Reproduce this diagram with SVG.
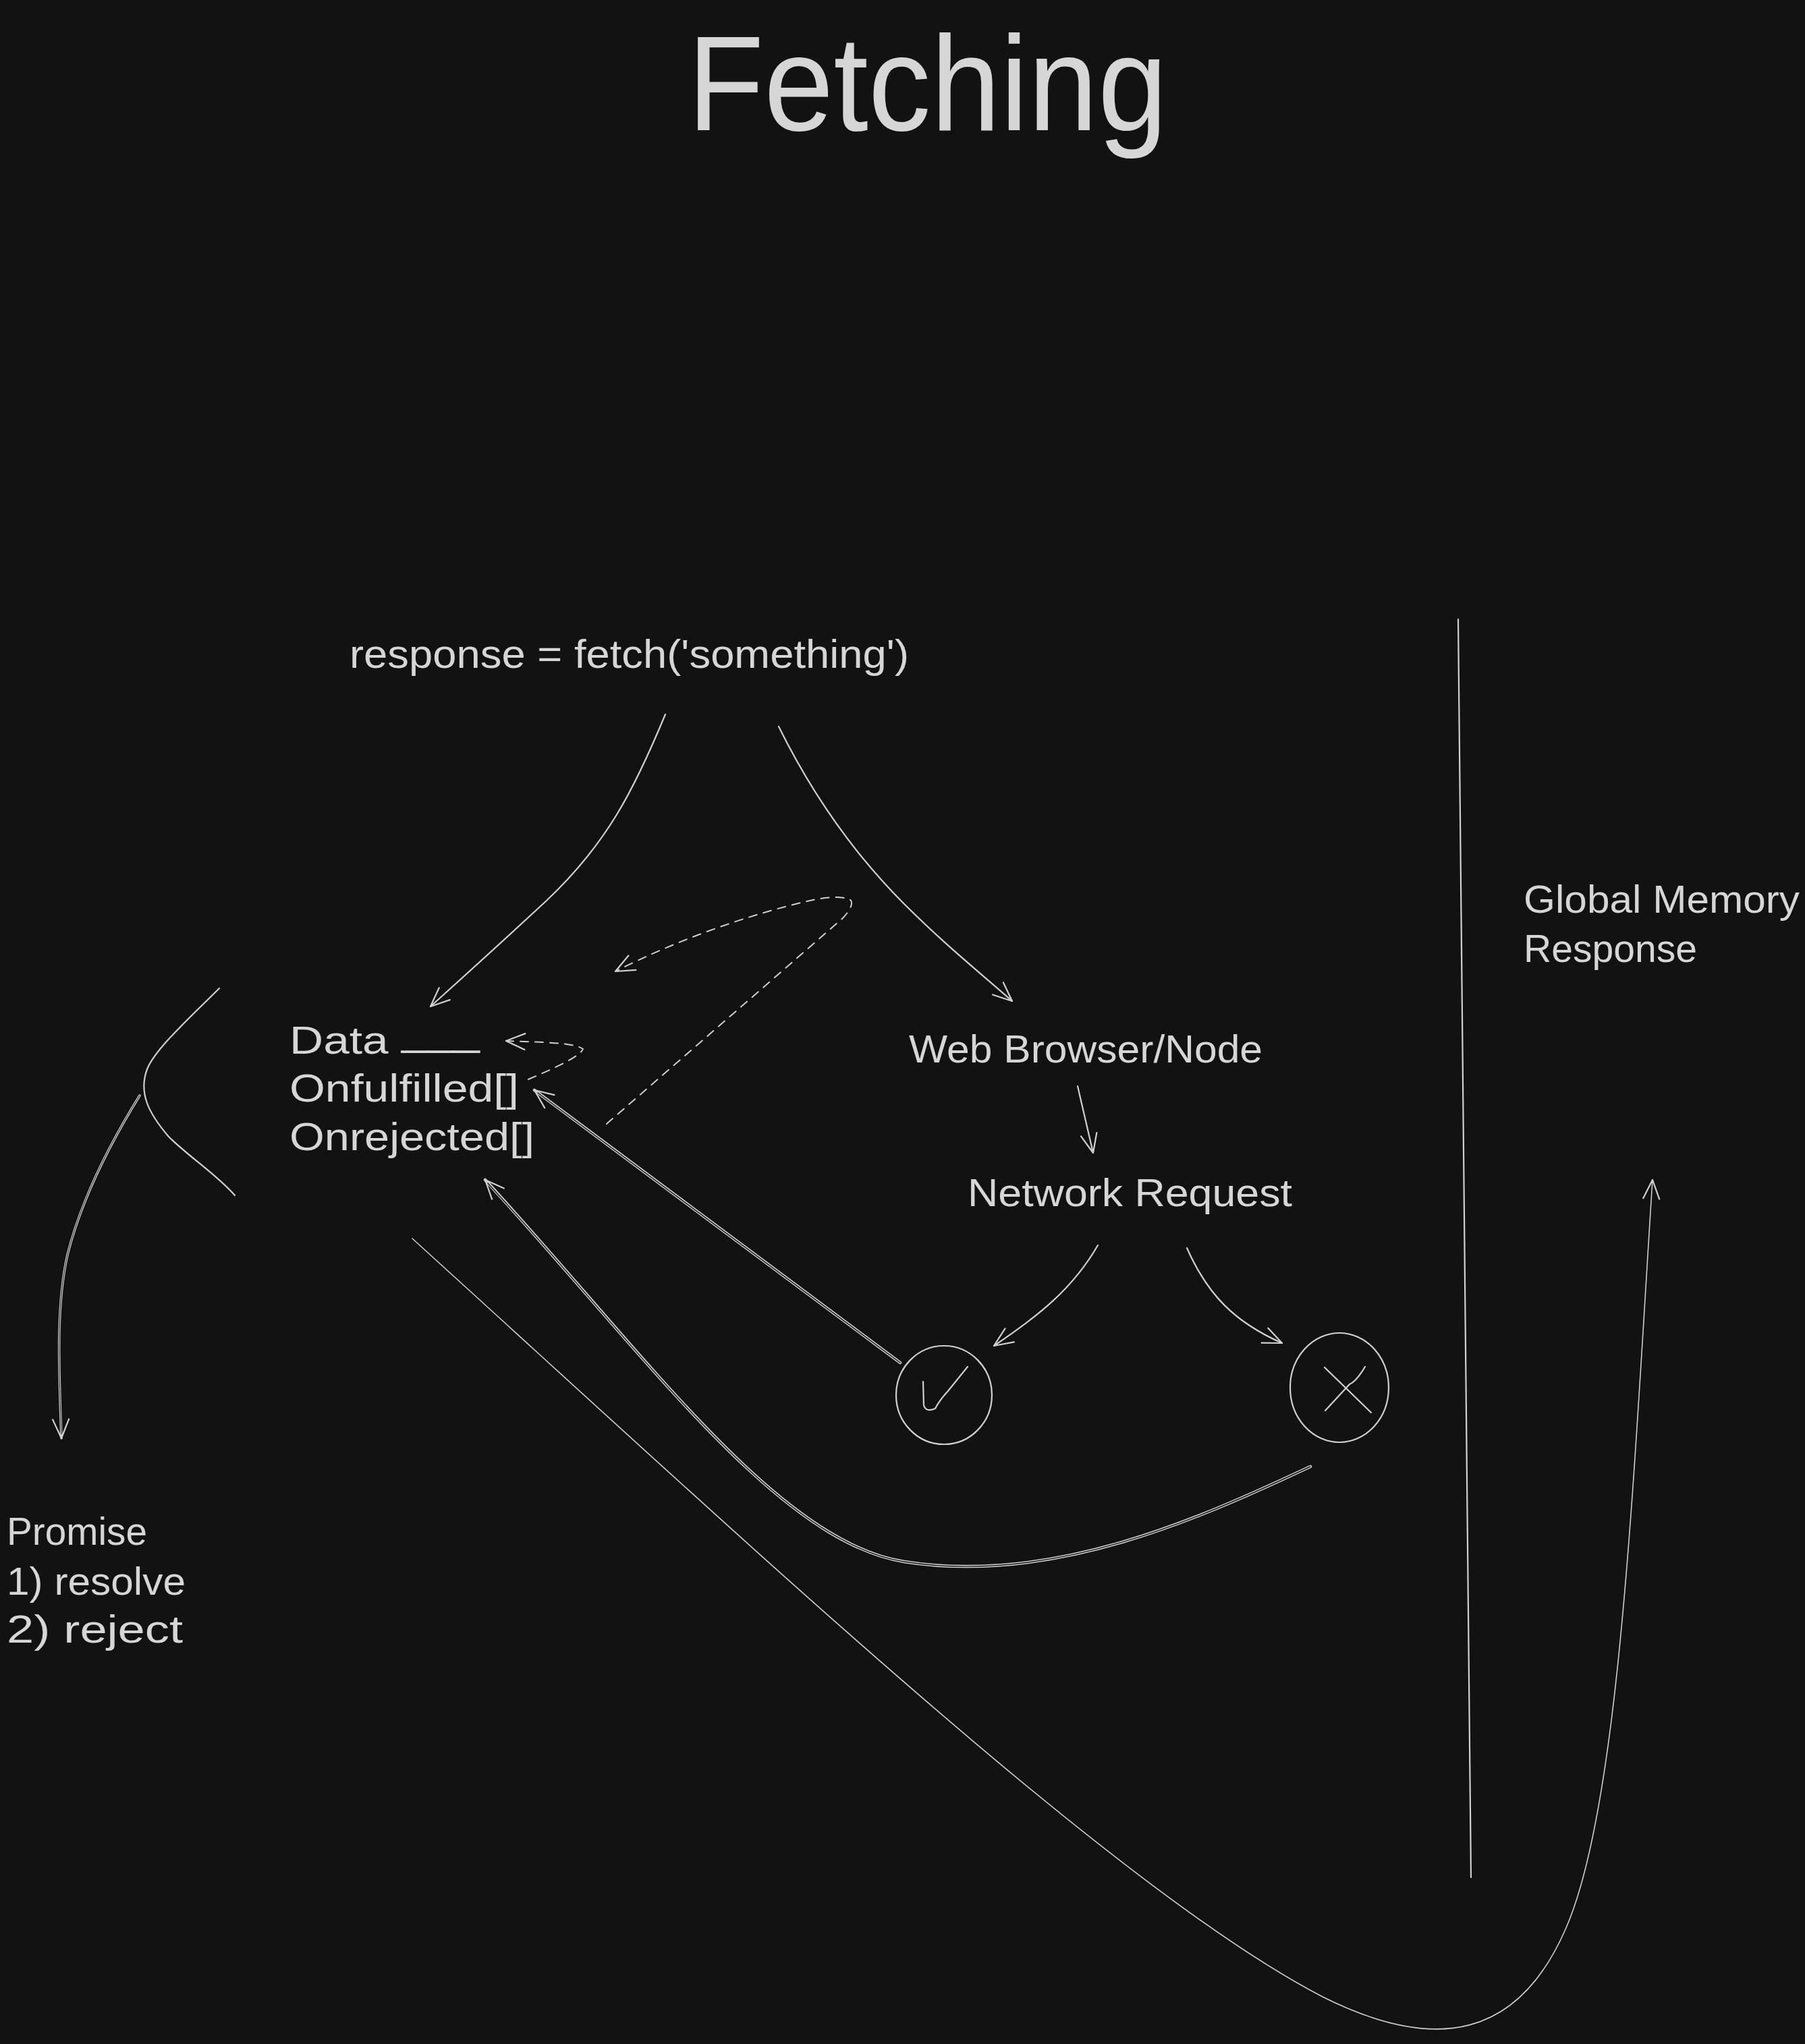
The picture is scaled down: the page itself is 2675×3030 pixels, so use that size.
<svg xmlns="http://www.w3.org/2000/svg" width="2675" height="3030" viewBox="0 0 2675 3030">
<style>
.t{font-family:"Liberation Sans","DejaVu Sans",sans-serif;fill:#d6d6d6;font-size:57px}
.s{fill:none;stroke:#d0d0d0;stroke-width:2.2;stroke-linecap:round;stroke-linejoin:round}
.thin{fill:none;stroke:#cfcfcf;stroke-width:1.6;stroke-linecap:round}
.d{fill:none;stroke:#cfcfcf;stroke-width:2;stroke-dasharray:12 10;stroke-linecap:round}
.dblo{fill:none;stroke:#cfcfcf;stroke-width:4.5;stroke-linecap:round}
.dbli{fill:none;stroke:#121212;stroke-width:1.4;stroke-linecap:round}
</style>
<defs>
<marker id="ah" viewBox="-32 -16 36 32" markerWidth="36" markerHeight="32" refX="0" refY="0" orient="auto" markerUnits="userSpaceOnUse">
<path d="M-28,-12 L0,0 L-28,12" fill="none" stroke="#d0d0d0" stroke-width="2.2" stroke-linecap="round" stroke-linejoin="round"/>
</marker>
</defs>
<rect width="2675" height="3030" fill="#121212"/>

<g id="title"><text class="t" x="1019" y="193" style="font-size:200px" textLength="711" lengthAdjust="spacingAndGlyphs">Fetching</text></g>
<g id="fetch-call"><text class="t" x="518" y="990" style="font-size:60px" textLength="829" lengthAdjust="spacingAndGlyphs">response = fetch('something')</text></g>
<g id="promise-object">
<text class="t" x="429" y="1562" textLength="282" lengthAdjust="spacingAndGlyphs">Data <tspan dy="-12">___</tspan></text>
<text class="t" x="429" y="1633" textLength="340" lengthAdjust="spacingAndGlyphs">Onfulfilled[]</text>
<text class="t" x="429" y="1705" textLength="363" lengthAdjust="spacingAndGlyphs">Onrejected[]</text>
</g>
<g id="web-browser"><text class="t" x="1347" y="1575" textLength="524" lengthAdjust="spacingAndGlyphs">Web Browser/Node</text></g>
<g id="network-request"><text class="t" x="1434" y="1788" textLength="481" lengthAdjust="spacingAndGlyphs">Network Request</text></g>
<g id="success">
<ellipse cx="1399" cy="2068" rx="71" ry="73" class="s"/>
<path class="s" d="M1368,2048 L1369,2083 Q1372,2094 1386,2088 Q1392,2076 1405,2062 L1434,2026"/>
</g>
<g id="failure">
<ellipse cx="1985" cy="2057" rx="73" ry="81" class="s"/>
<path class="s" d="M1963,2027 L2032,2094 M2023,2026 Q2010,2048 2000,2052 L1964,2091"/>
</g>
<g id="promise-label">
<text class="t" x="10" y="2290" textLength="208" lengthAdjust="spacingAndGlyphs">Promise</text>
<text class="t" x="10" y="2364" textLength="265" lengthAdjust="spacingAndGlyphs">1) resolve</text>
<text class="t" x="10" y="2435" textLength="261" lengthAdjust="spacingAndGlyphs">2) reject</text>
</g>
<g id="global-memory">
<text class="t" x="2258" y="1353" textLength="409" lengthAdjust="spacingAndGlyphs">Global Memory</text>
<text class="t" x="2258" y="1426" textLength="257" lengthAdjust="spacingAndGlyphs">Response</text>
</g>

<g id="connectors">
<path class="s" marker-end="url(#ah)" d="M986,1059 C940,1170 900,1250 810,1335 C740,1400 690,1445 638,1492"/>
<path class="s" marker-end="url(#ah)" d="M1154,1077 C1200,1170 1260,1260 1340,1340 C1400,1400 1450,1440 1500,1484"/>
<path class="d" marker-end="url(#ah)" d="M899,1666 L1248,1362 C1262,1348 1266,1335 1258,1333 C1245,1328 1225,1330 1205,1334 C1110,1355 1000,1395 912,1440"/>
<path class="d" marker-end="url(#ah)" d="M783,1600 C830,1580 860,1565 864,1555 C850,1545 800,1545 750,1543"/>
<path class="s" marker-end="url(#ah)" d="M1597,1610 L1620,1709"/>
<path class="s" marker-end="url(#ah)" d="M1627,1846 C1590,1910 1540,1950 1473,1995"/>
<path class="s" stroke-width="2.6" marker-end="url(#ah)" d="M1759,1850 C1790,1920 1830,1960 1900,1991"/>
<path class="dblo" marker-end="url(#ah)" d="M1334,2020 L792,1616"/>
<path class="dbli" d="M1334,2020 L797,1620"/>
<path class="dblo" marker-end="url(#ah)" d="M1942,2174 C1780,2250 1560,2350 1340,2315 C1150,2285 950,2000 719,1749"/>
<path class="dbli" d="M1942,2174 C1780,2250 1560,2350 1340,2315 C1150,2285 950,2000 723,1754"/>
<path class="s" d="M325,1465 C280,1510 230,1555 218,1585 C205,1620 220,1650 250,1685 C280,1715 320,1740 348,1772"/>
<path class="dblo" style="stroke-width:3.5" marker-end="url(#ah)" d="M207,1624 C160,1700 120,1780 100,1860 C82,1940 88,2040 91,2132"/>
<path class="dbli" style="stroke-width:1" d="M207,1624 C160,1700 120,1780 100,1860 C82,1940 88,2040 91,2126"/>
<path class="thin" marker-end="url(#ah)" d="M611,1836 C1100,2280 1650,2800 1960,2960 C2130,3045 2250,3020 2320,2860 C2400,2680 2420,2200 2449,1749"/>
<path class="s" d="M2161,918 L2180,2783"/>
</g>
</svg>
